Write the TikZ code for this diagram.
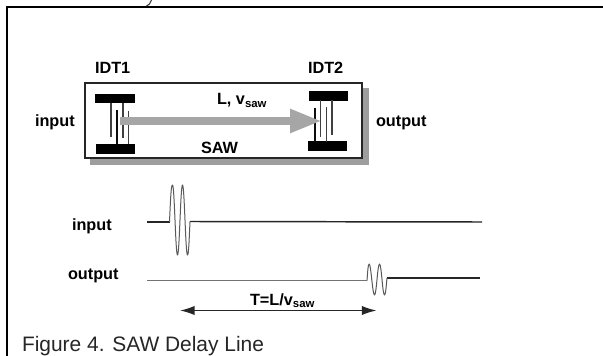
\documentclass[tikz,border=0pt]{standalone}
\usepackage{fontspec}
\setmainfont{Liberation Sans}
\usetikzlibrary{arrows.meta}
\definecolor{shadowgray}{gray}{0.62}
\definecolor{sawgray}{gray}{0.65}
\tikzset{
  lab/.style={anchor=base west,inner sep=0pt,outer sep=0pt,font=\fontsize{12.2pt}{14pt}\selectfont\bfseries},
  captiontext/.style={anchor=base west,inner sep=0pt,outer sep=0pt,font=\fontsize{15.7pt}{18pt}\selectfont,text=black!85},
  bar/.style={fill=black,draw=none,inner sep=0pt,outer sep=0pt,minimum width=29.5pt,minimum height=7.2pt},
  finger/.style={line width=1.2pt,black!75},
  fingerk/.style={line width=1.2pt,black!95},
  wave/.style={line width=.75pt,black!65,line join=round},
  baseline k/.style={line width=1.1pt,black!85},
  baseline g/.style={line width=1.1pt,black!55},
  sawarrow/.style={line width=6pt,sawgray,-{Triangle[length=24pt,width=16.5pt]}},
  timearrow/.style={line width=1.1pt,black!85,{Latex[length=11pt,width=7pt]}-{Latex[length=11pt,width=7pt]}}
}
\begin{document}
\begin{tikzpicture}[x=0.75pt,y=-0.75pt]
\useasboundingbox (0,0) rectangle (603,356);
\fill[white] (0,0) rectangle (603,356);
% page frame
\draw[line width=1.9pt,black] (7,356) -- (7,7) -- (603,7);
\draw[line width=.8pt,black!80] (146.5,6) .. controls (149,5.5) and (150.5,3) .. (151.5,0);
% substrate
\fill[shadowgray] (90,88) rectangle (368.5,165.5);
\draw[line width=.9pt,black!85,fill=white] (85,83) rectangle (362,158);
% IDT1
\node[bar] (a1) at (115,98.5) {};
\node[bar] (a2) at (115.5,149) {};
\draw[finger] (111,103) -- (111,137);
\draw[fingerk] (117,110) -- (117,144);
\draw[finger] (123,103) -- (123,138);
\draw[finger] (128.5,111) -- (128.5,144);
% IDT2
\node[bar] (b1) at (328.2,96) {};
\node[bar] (b2) at (327.8,146.3) {};
\draw[fingerk] (314.7,108) -- (314.7,142);
\draw[finger] (320.5,100.5) -- (320.5,137);
\draw[finger] (326.5,107.5) -- (326.5,142);
\draw[finger] (332,100.5) -- (332,135.5);
% SAW arrow
\coordinate (sawstart) at (120,121);
\coordinate (sawend) at (322,121);
\draw[sawarrow] (sawstart) -- (sawend);
% labels
\node[lab] (idta) at (95,73.5) {IDT1};
\node[lab] (idtb) at (308,73.5) {IDT2};
\node[lab] (inA) at (35,126.5) {input};
\node[lab] (outA) at (376,126.5) {output};
\node[lab] (lv) at (217,105) {L, v\textsubscript{saw}};
\node[lab] (saw) at (201,153.5) {SAW};
\node[lab] (inB) at (72,230) {input};
\node[lab] (outB) at (68,279) {output};
% waveforms
\coordinate (i0) at (147,222);
\coordinate (i1) at (169.5,222);
\coordinate (i2) at (190,221.5);
\coordinate (i3) at (482,222);
\draw[baseline k] (i0) -- (i1);
\draw[baseline k] (i2) -- (i3);
\draw[wave] (i1) .. controls (170.5,200) and (171,185) .. (172.5,185)
  .. controls (174.5,185) and (175.5,255) .. (177.5,255)
  .. controls (179.5,255) and (180.5,185) .. (182.5,185)
  .. controls (184.5,185) and (185.5,255) .. (187.5,255)
  .. controls (188.8,255) and (189.3,235) .. (i2);
\coordinate (o0) at (147,280.5);
\coordinate (o1) at (367,280.5);
\coordinate (o2) at (387,278);
\coordinate (o3) at (480,278);
\draw[baseline g] (o0) -- (o1);
\draw[baseline k] (o2) -- (o3);
\draw[wave] (o1) .. controls (367.7,272) and (368,264) .. (369.2,264)
  .. controls (371,264) and (372.5,295) .. (374.5,295)
  .. controls (376.5,295) and (377.5,264) .. (379.5,264)
  .. controls (381.5,264) and (382.5,295) .. (384.5,295)
  .. controls (385.7,295) and (386.3,285) .. (o2);
% delay
\coordinate (t0) at (180,310.5);
\coordinate (t1) at (376.5,310.5);
\draw[timearrow] (t0) -- (t1);
\node[lab] (tl) at (250,305.5) {T=L/v\textsubscript{saw}};
\node[captiontext] (figcap) at (22,351) {Figure 4. SAW Delay Line};
\end{tikzpicture}
\end{document}
